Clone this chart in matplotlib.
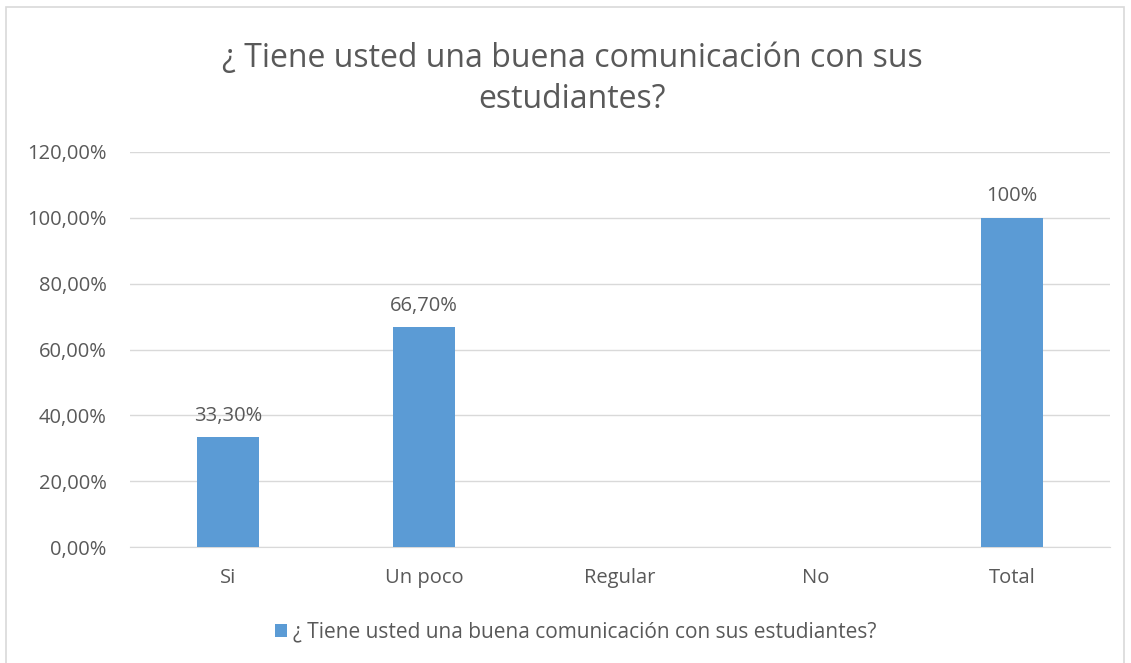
import matplotlib.pyplot as plt
from matplotlib.patches import Rectangle
from matplotlib.ticker import FuncFormatter

categorias = ['Si', 'Un poco', 'Regular', 'No', 'Total']
valores = [0.333, 0.667, 0, 0, 1.0]
etiquetas = ['33,30%', '66,70%', '', '', '100%']
serie = '¿ Tiene usted una buena comunicación con sus estudiantes?'
titulo = '¿ Tiene usted una buena comunicación con sus\nestudiantes?'

plt.rcParams['font.family'] = ['Open Sans', 'DejaVu Sans']
gris = '#595959'
azul = '#5B9BD5'

fig = plt.figure(figsize=(11.31, 6.63), dpi=100)
fig.patches.append(Rectangle((6 / 1131, -0.01), 1118 / 1131, 1 - 7 / 663 + 0.01,
                             transform=fig.transFigure, fill=False,
                             edgecolor='#d9d9d9', linewidth=1.2))

ax = fig.add_axes([130 / 1131, 1 - 547 / 663, 980 / 1131, 395 / 663])
x = range(len(categorias))
barras = ax.bar(x, valores, width=0.315, color=azul, label=serie, zorder=3)
for b, t in zip(barras, etiquetas):
    if t:
        ax.text(b.get_x() + b.get_width() / 2, b.get_height() + 0.035, t,
                ha='center', va='bottom', fontsize=14.5, color=gris)

ax.set_xlim(-0.5, len(categorias) - 0.5)
ax.set_ylim(0, 1.2)
ax.set_yticks([i * 0.2 for i in range(7)])
ax.yaxis.set_major_formatter(FuncFormatter(lambda v, p: f'{v * 100:.2f}%'.replace('.', ',')))
ax.set_xticks(list(x))
ax.set_xticklabels(categorias)
ax.tick_params(axis='both', length=0, labelsize=14.5, labelcolor=gris)
ax.tick_params(axis='y', pad=17)
ax.tick_params(axis='x', pad=15)
ax.grid(axis='y', color='#d9d9d9', linewidth=1, zorder=0)
for s in ['top', 'right', 'left']:
    ax.spines[s].set_visible(False)
ax.spines['bottom'].set_color('#d9d9d9')

fig.text(0.506, 1 - 79 / 663, titulo, ha='center', va='center', fontsize=23,
         color=gris, linespacing=1.3)

fig.legend(handles=[barras], labels=[serie], loc='center', bbox_to_anchor=(0.509, 1 - 632 / 663),
           frameon=False, fontsize=15, labelcolor=gris, handlelength=0.6,
           handleheight=0.6, handletextpad=0.3)

fig.savefig('out.png', dpi=100)
